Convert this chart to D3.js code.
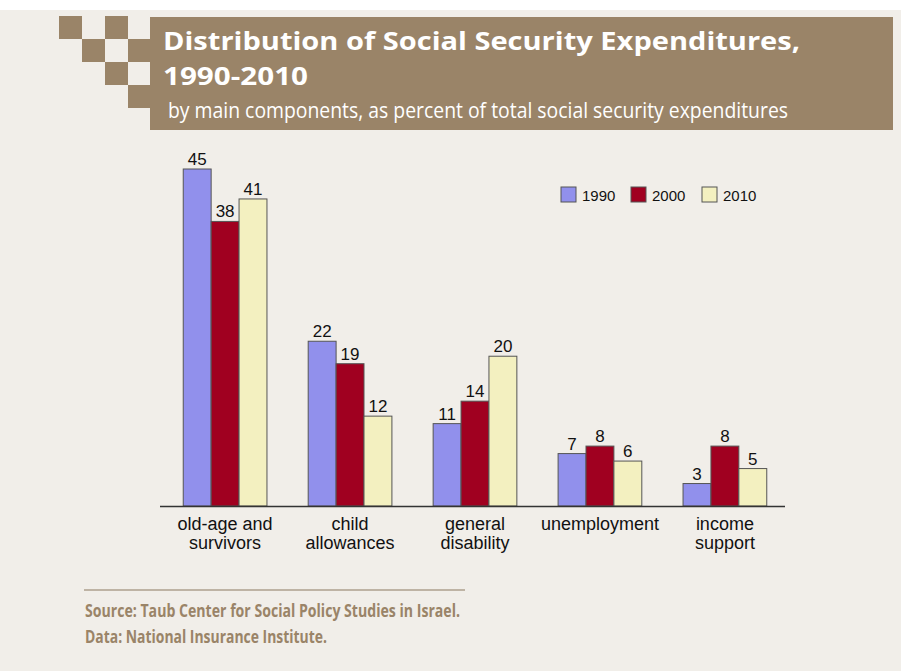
<!DOCTYPE html>
<html>
<head>
<meta charset="utf-8">
<script src="https://cdn.jsdelivr.net/npm/d3@7"></script>
<style>
  body { margin: 0; background: #fff; }
  svg { display: block; }
</style>
</head>
<body>
<svg id="chart"></svg>
<script>
// dados
const categorias = [["old-age and", "survivors"], ["child", "allowances"], ["general", "disability"], ["unemployment"], ["income", "support"]];
const anos = ["1990", "2000", "2010"];
const valores_1990 = [45, 22, 11, 7, 3];
const valores_2000 = [38, 19, 14, 8, 8];
const valores_2010 = [41, 12, 20, 6, 5];
const cores = ["#9190ec", "#a00020", "#f3f0c0"];

const W = 901, H = 671;
const MARROM = "#9a8468";
const FONTE = "Liberation Sans, Arial, sans-serif";

const $svg = d3.select("#chart").attr("width", W).attr("height", H);

// fundo
$svg.append("rect").attr("x", 0).attr("y", 10).attr("width", W).attr("height", H - 10).attr("fill", "#f1eee9");

// quadradinhos do cabeçalho
const quadrados = [[59, 16], [105, 16], [82, 39], [128, 39], [105, 62], [128, 85]];
$svg.selectAll("rect.quad").data(quadrados).enter()
  .append("rect").classed("quad", true)
  .attr("x", d => d[0]).attr("y", d => d[1])
  .attr("width", 23).attr("height", 23)
  .attr("fill", MARROM);

$svg.append("rect").attr("x", 150).attr("y", 17).attr("width", 743).attr("height", 113).attr("fill", MARROM);

$svg.append("text").attr("x", 163).attr("y", 50)
  .attr("font-family", "Open Sans").attr("font-weight", "bold").attr("font-size", 25)
  .attr("fill", "#fff").attr("textLength", 637).attr("lengthAdjust", "spacingAndGlyphs")
  .text("Distribution of Social Security Expenditures,");
$svg.append("text").attr("x", 163).attr("y", 85)
  .attr("font-family", "Open Sans").attr("font-weight", "bold").attr("font-size", 25)
  .attr("fill", "#fff").attr("textLength", 145).attr("lengthAdjust", "spacingAndGlyphs")
  .text("1990-2010");
$svg.append("text").attr("x", 168).attr("y", 118)
  .attr("font-family", "Open Sans").attr("font-size", 21)
  .attr("fill", "#fff").attr("textLength", 620).attr("lengthAdjust", "spacingAndGlyphs")
  .text("by main components, as percent of total social security expenditures");

// escalas
const base_y = 506;
const x0 = d3.scaleBand().domain(d3.range(categorias.length)).range([162, 788]).paddingInner(0.33).paddingOuter(0.17);
const x1 = d3.scaleBand().domain(anos).range([0, x0.bandwidth()]);
const y = d3.scaleLinear().domain([0, 45]).range([base_y, 169]);

const series = [valores_1990, valores_2000, valores_2010];
const dados = [];
categorias.forEach((c, i) => {
  anos.forEach((a, j) => dados.push({ cat: i, ano: a, cor: cores[j], valor: series[j][i] }));
});

$svg.selectAll("rect.barra").data(dados).enter()
  .append("rect").classed("barra", true)
  .attr("x", d => x0(d.cat) + x1(d.ano))
  .attr("y", d => y(d.valor))
  .attr("width", x1.bandwidth())
  .attr("height", d => base_y - y(d.valor))
  .attr("fill", d => d.cor)
  .attr("stroke", "#555")
  .attr("stroke-width", 1);

$svg.selectAll("text.valor").data(dados).enter()
  .append("text").classed("valor", true)
  .attr("x", d => x0(d.cat) + x1(d.ano) + x1.bandwidth() / 2)
  .attr("y", d => y(d.valor) - 4)
  .attr("text-anchor", "middle")
  .attr("font-family", FONTE).attr("font-size", 17)
  .attr("fill", "#111")
  .text(d => d.valor);

// eixo
$svg.append("line").attr("x1", 160).attr("x2", 785).attr("y1", base_y + 0.5).attr("y2", base_y + 0.5)
  .attr("stroke", "#333").attr("stroke-width", 1.5);

const $cats = $svg.selectAll("text.cat").data(categorias).enter()
  .append("text").classed("cat", true)
  .attr("x", (d, i) => x0(i) + x0.bandwidth() / 2)
  .attr("y", 530)
  .attr("text-anchor", "middle")
  .attr("font-family", FONTE).attr("font-size", 18)
  .attr("fill", "#111");
$cats.selectAll("tspan").data(d => d).enter()
  .append("tspan")
  .attr("x", function() { return d3.select(this.parentNode).attr("x"); })
  .attr("dy", (d, i) => i === 0 ? 0 : 19)
  .text(d => d);

// legenda
const leg_x = [561, 631, 702];
const $leg = $svg.selectAll("g.leg").data(anos).enter()
  .append("g").classed("leg", true)
  .attr("transform", (d, i) => `translate(${leg_x[i]},187)`);
$leg.append("rect").attr("width", 15).attr("height", 15)
  .attr("fill", (d, i) => cores[i]).attr("stroke", "#555");
$leg.append("text").attr("x", 21).attr("y", 14)
  .attr("font-family", FONTE).attr("font-size", 15).attr("fill", "#111")
  .text(d => d);

// rodapé
$svg.append("line").attr("x1", 84).attr("x2", 465).attr("y1", 590).attr("y2", 590)
  .attr("stroke", "#ad9f8c").attr("stroke-width", 1.5);
$svg.append("text").attr("x", 85).attr("y", 617)
  .attr("font-family", "Open Sans").attr("font-weight", "bold").attr("font-size", 18)
  .attr("fill", MARROM).attr("textLength", 375).attr("lengthAdjust", "spacingAndGlyphs")
  .text("Source: Taub Center for Social Policy Studies in Israel.");
$svg.append("text").attr("x", 85).attr("y", 643)
  .attr("font-family", "Open Sans").attr("font-weight", "bold").attr("font-size", 18)
  .attr("fill", MARROM).attr("textLength", 242).attr("lengthAdjust", "spacingAndGlyphs")
  .text("Data: National Insurance Institute.");
</script>
</body>
</html>
